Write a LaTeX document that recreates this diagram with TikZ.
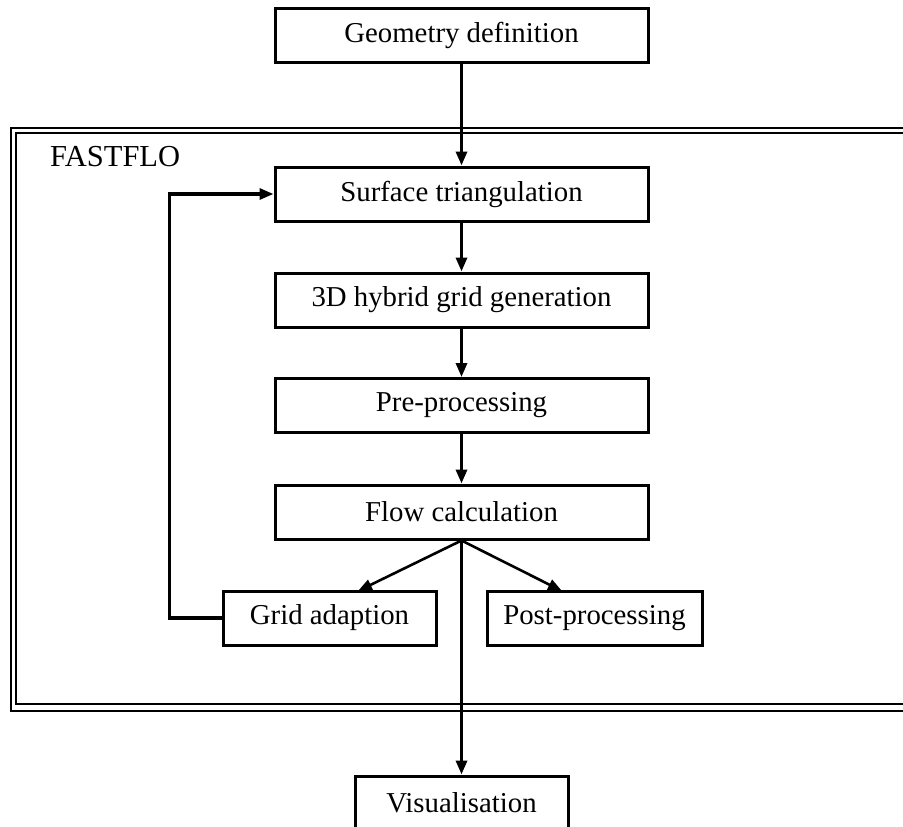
\documentclass[tikz,border=0pt]{standalone}
\usepackage{fontspec}
\setmainfont{Liberation Serif}
\usetikzlibrary{arrows.meta}
\begin{document}
\begin{tikzpicture}[x=1pt,y=-1pt,
  box/.style={draw,line width=3pt,rectangle,minimum height=54pt,inner sep=0pt,
    font=\fontsize{28.8}{34}\selectfont},
  wide/.style={box,minimum width=373pt},
  narrow/.style={box,minimum width=213pt},
  flow/.style={line width=3.2pt,-{Triangle[length=14pt,width=11pt]}},
  diag/.style={line width=2.6pt,-{Triangle[length=14pt,width=11pt]}},
  frame/.style={line width=2.6pt}]
\useasboundingbox (0,0) rectangle (903,827);
% FASTFLO frame
\draw[frame] (11,128) rectangle (912,711);
\draw[frame] (16,133) rectangle (907,704);
\node[anchor=base west,inner sep=0pt,font=\fontsize{30.5}{34}\selectfont] (lbl) at (50,166) {FASTFLO};
% boxes
\node[wide] (geo) at (461.5,35) {Geometry definition};
\node[wide] (surf) at (461.5,194) {Surface triangulation};
\node[wide] (hyb) at (461.5,300) {3D hybrid grid generation};
\node[wide] (pre) at (461.5,405.5) {Pre-processing};
\node[wide] (flw) at (461.5,512) {Flow calculation};
\node[narrow] (grid) at (329.5,618) {Grid adaption};
\node[box,minimum width=215pt] (post) at (594.5,618) {Post-processing};
\node[narrow] (vis) at (461.5,803) {Visualisation};
\coordinate (gtip) at (358,591);
\coordinate (ptip) at (562,591);
% connectors
\draw[flow] (geo.south) -- (surf.north);
\draw[flow] (surf.south) -- (hyb.north);
\draw[flow] (hyb.south) -- (pre.north);
\draw[flow] (pre.south) -- (flw.north);
\draw[diag] (flw.south) -- (gtip);
\draw[diag] (flw.south) -- (ptip);
\draw[flow] (flw.south) -- (vis.north);
\draw[flow] (grid.west) -- ++(-52,0) |- (surf.west);
\end{tikzpicture}
\end{document}
